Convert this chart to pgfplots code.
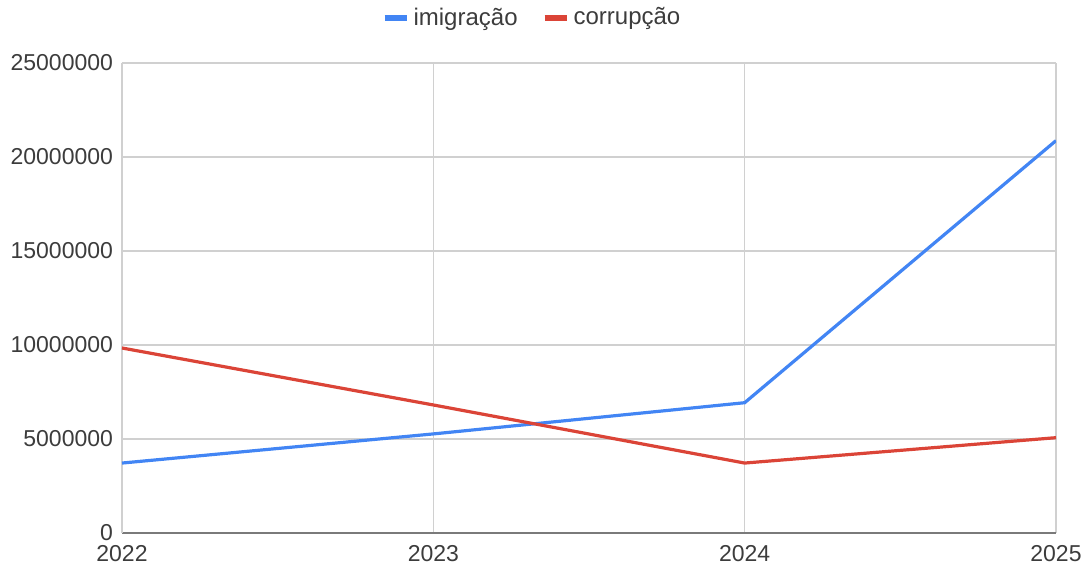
\documentclass[border=0pt]{standalone}
\usepackage{pgfplots}
\pgfplotsset{compat=1.18}
\usepackage{fontspec}
\setmainfont{Liberation Sans}

\definecolor{seriesblue}{HTML}{4285F4}
\definecolor{seriesred}{HTML}{DB4437}
\definecolor{gridgray}{HTML}{D0D0D0}
\definecolor{labelgray}{HTML}{3C3C3C}
\definecolor{basegray}{HTML}{7A7A7A}

\pgfplotstableread{
year imigracao corrupcao
2022 3720000 9840000
2023 5270000 6810000
2024 6930000 3720000
2025 20870000 5070000
}\datatable

\begin{document}
\begin{tikzpicture}
\useasboundingbox (0,0) rectangle (541pt,283pt);
\begin{axis}[
  at={(61pt,16.5pt)}, anchor=south west,
  width=467pt, height=235pt, scale only axis,
  xmin=2022, xmax=2025, ymin=0, ymax=25000000,
  scaled y ticks=false, scaled x ticks=false,
  xtick={2022,2023,2024,2025},
  xticklabels={2022,2023,2024,2025},
  ytick={0,5000000,10000000,15000000,20000000,25000000},
  yticklabels={0,5000000,10000000,15000000,20000000,25000000},
  major tick length=0pt,
  grid=major,
  major grid style={draw=gridgray, line width=0.6pt},
  axis x line*=bottom, axis y line*=left,
  x axis line style={draw=basegray, line width=1pt},
  y axis line style={draw=gridgray, line width=0.6pt},
  tick label style={font=\fontsize{11.5}{13}\selectfont, text=labelgray},
  xticklabel style={yshift=-2.5pt},
  yticklabel style={xshift=-1pt},
  legend columns=2,
  legend style={at={(0.44,1.096)}, anchor=center, draw=none, fill=none,
    font=\fontsize{12}{14}\selectfont, text=labelgray,
    /tikz/every even column/.append style={column sep=10pt}},
  legend cell align=left,
  legend image code/.code={\draw[line width=3pt] (0pt,0pt) -- (11pt,0pt);},
]
\addplot[seriesblue, line width=1.6pt] table[x=year, y=imigracao] {\datatable};
\addlegendentry{imigração}
\addplot[seriesred, line width=1.6pt] table[x=year, y=corrupcao] {\datatable};
\addlegendentry{corrupção}
\end{axis}
\end{tikzpicture}
\end{document}
